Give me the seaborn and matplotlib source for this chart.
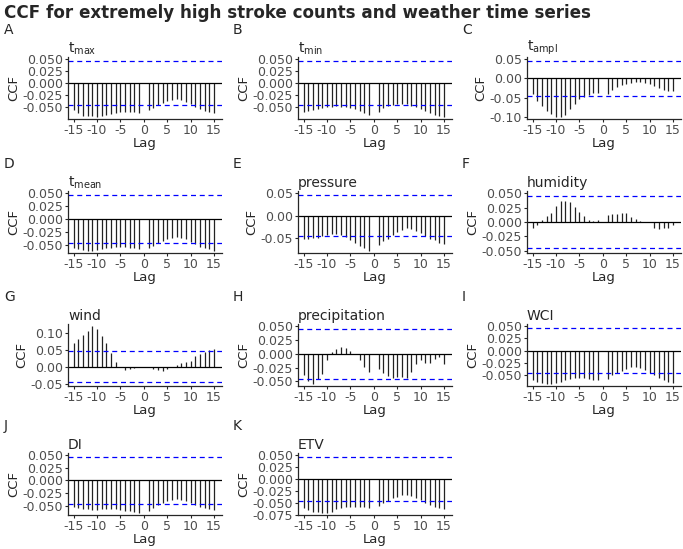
import numpy as np
import matplotlib
matplotlib.use("Agg")
import matplotlib.pyplot as plt
from matplotlib.ticker import MultipleLocator, FormatStrFormatter
import seaborn as sns

sns.set_style("ticks")
plt.rcParams['font.family'] = ['DejaVu Sans']
plt.rcParams['axes.unicode_minus'] = False

lags = list(range(-15, 16))
ci = 0.046
axis_floor = 0.05  # every panel's y range reaches at least +-0.05

# CCF values, lag -15 .. 15 (lag 0 left empty)
tmax = [-0.056, -0.062, -0.067, -0.068, -0.069, -0.0695, -0.068, -0.066, -0.063, -0.061,
        -0.059, -0.059, -0.059, -0.059, -0.061, 0.0,
        -0.056, -0.051, -0.046, -0.042, -0.037, -0.034, -0.033, -0.035, -0.038, -0.044,
        -0.049, -0.054, -0.057, -0.059, -0.062]
tmin = [-0.059, -0.057, -0.056, -0.054, -0.052, -0.050, -0.049, -0.048, -0.049, -0.050,
        -0.052, -0.054, -0.057, -0.061, -0.065, 0.0,
        -0.059, -0.052, -0.048, -0.045, -0.044, -0.043, -0.044, -0.047, -0.050, -0.053,
        -0.058, -0.062, -0.065, -0.067, -0.0695]
tampl = [-0.040, -0.058, -0.072, -0.084, -0.093, -0.100, -0.100, -0.095, -0.079, -0.067,
         -0.055, -0.049, -0.042, -0.037, -0.037, 0.0,
         -0.040, -0.029, -0.022, -0.018, -0.014, -0.011, -0.009, -0.009, -0.011, -0.014,
         -0.019, -0.024, -0.031, -0.032, -0.033]
tmean = [-0.055, -0.058, -0.060, -0.061, -0.061, -0.060, -0.058, -0.056, -0.055, -0.054,
         -0.053, -0.054, -0.055, -0.056, -0.058, 0.0,
         -0.056, -0.051, -0.047, -0.042, -0.039, -0.036, -0.035, -0.036, -0.039, -0.044,
         -0.049, -0.054, -0.056, -0.058, -0.061]
pressure = [-0.052, -0.052, -0.050, -0.050, -0.047, -0.044, -0.042, -0.042, -0.044, -0.049,
            -0.055, -0.061, -0.068, -0.074, -0.079, 0.0,
            -0.067, -0.058, -0.052, -0.044, -0.038, -0.032, -0.029, -0.030, -0.035, -0.039,
            -0.045, -0.052, -0.056, -0.061, -0.064]
humidity = [-0.011, -0.006, 0.004, 0.010, 0.016, 0.028, 0.036, 0.036, 0.035, 0.026,
            0.018, 0.010, 0.004, 0.001, 0.004, 0.0,
            0.012, 0.014, 0.014, 0.015, 0.016, 0.009, 0.005, 0.001, 0.0, 0.0,
            -0.010, -0.012, -0.011, -0.010, -0.006]
wind = [0.069, 0.081, 0.093, 0.106, 0.119, 0.111, 0.091, 0.069, 0.040, 0.014,
        0.0, -0.011, -0.006, -0.004, -0.002, 0.0,
        0.0, -0.006, -0.010, -0.014, -0.008, 0.0, 0.006, 0.010, 0.014, 0.018,
        0.032, 0.038, 0.042, 0.048, 0.052]
precipitation = [-0.039, -0.049, -0.054, -0.046, -0.037, -0.011, 0.004, 0.009, 0.013, 0.010,
                 0.005, 0.0, -0.011, -0.023, -0.033, 0.0,
                 -0.028, -0.035, -0.040, -0.044, -0.041, -0.041, -0.044, -0.033, -0.018, -0.011,
                 -0.016, -0.017, -0.010, -0.006, -0.018]
wci = [-0.061, -0.065, -0.067, -0.068, -0.068, -0.067, -0.064, -0.061, -0.059, -0.057,
       -0.057, -0.057, -0.059, -0.060, -0.061, 0.0,
       -0.059, -0.051, -0.046, -0.041, -0.037, -0.034, -0.033, -0.036, -0.040, -0.046,
       -0.051, -0.057, -0.061, -0.064, -0.066]
di = [-0.052, -0.055, -0.057, -0.057, -0.059, -0.059, -0.057, -0.056, -0.056, -0.057,
      -0.059, -0.060, -0.061, -0.062, -0.064, 0.0,
      -0.060, -0.055, -0.049, -0.045, -0.041, -0.039, -0.037, -0.039, -0.041, -0.045,
      -0.049, -0.052, -0.055, -0.056, -0.059]
etv = [-0.061, -0.066, -0.069, -0.070, -0.071, -0.071, -0.069, -0.064, -0.061, -0.060,
       -0.059, -0.059, -0.059, -0.060, -0.061, 0.0,
       -0.057, -0.051, -0.046, -0.041, -0.037, -0.034, -0.033, -0.036, -0.040, -0.044,
       -0.050, -0.054, -0.059, -0.061, -0.064]

panel_letters = ["A", "B", "C", "D", "E", "F", "G", "H", "I", "J", "K"]
panel_titles = [r"$\mathregular{t_{max}}$", r"$\mathregular{t_{min}}$", r"$\mathregular{t_{ampl}}$",
                r"$\mathregular{t_{mean}}$", "pressure", "humidity", "wind", "precipitation",
                "WCI", "DI", "ETV"]
series = [tmax, tmin, tampl, tmean, pressure, humidity, wind, precipitation, wci, di, etv]
tick_steps = [0.025, 0.025, 0.05, 0.025, 0.05, 0.025, 0.05, 0.025, 0.025, 0.025, 0.025]

W, H = 683, 549
fig = plt.figure(figsize=(W / 100, H / 100), dpi=100)
fig.text(4 / W, 1 - 13 / H, "CCF for extremely high stroke counts and weather time series",
         fontsize=12.1, fontweight="bold", va="center", ha="left")

col_left = [68, 298, 527]
col_label = [4, 233, 462]
row_top = [57, 191, 324, 453]
ax_w, ax_h = 154, 62

for i, (vals, title, letter, step) in enumerate(zip(series, panel_titles, panel_letters, tick_steps)):
    r, c = divmod(i, 3)
    ax = fig.add_axes([col_left[c] / W, 1 - (row_top[r] + ax_h) / H, ax_w / W, ax_h / H])
    vals = np.array(vals)
    ax.vlines(lags, 0, vals, color="#222222", linewidth=0.9)
    ax.axhline(0, color="black", linewidth=0.9)
    ax.axhline(ci, color="blue", linestyle=(0, (4, 3)), linewidth=0.9)
    ax.axhline(-ci, color="blue", linestyle=(0, (4, 3)), linewidth=0.9)
    lo = min(vals.min(), -axis_floor)
    hi = max(vals.max(), axis_floor)
    pad = (hi - lo) * 0.04
    ax.set_ylim(lo - pad, hi + pad)
    ax.set_xlim(-16.2, 16.7)
    ax.set_xticks([-15, -10, -5, 0, 5, 10, 15])
    ax.yaxis.set_major_locator(MultipleLocator(step))
    ax.yaxis.set_major_formatter(FormatStrFormatter("%.3f" if step < 0.05 else "%.2f"))
    ax.tick_params(labelsize=9, labelcolor="#4D4D4D", length=2.5, width=0.8, pad=1)
    ax.set_xlabel("Lag", fontsize=9.5, labelpad=0)
    ax.set_ylabel("CCF", fontsize=9.5, labelpad=2)
    ax.set_title(title, loc="left", fontsize=10, pad=3)
    sns.despine(ax=ax)
    for s in ["left", "bottom"]:
        ax.spines[s].set_linewidth(0.9)
    fig.text(col_label[c] / W, 1 - (row_top[r] - 27) / H, letter, fontsize=10, va="center", ha="left")

fig.savefig("out.png", dpi=100)
